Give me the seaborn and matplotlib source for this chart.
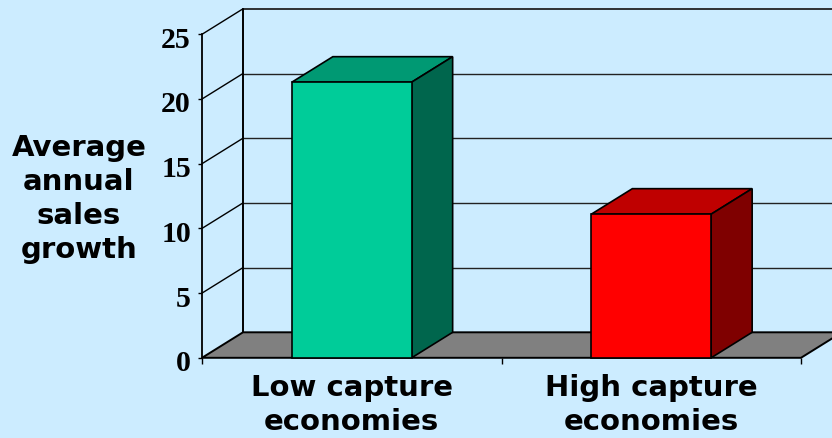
import matplotlib
matplotlib.use('Agg')
import matplotlib.pyplot as plt
import seaborn as sns
import pandas as pd
from matplotlib.patches import Polygon
from matplotlib.transforms import ScaledTranslation

categories = ['Low capture\neconomies', 'High capture\neconomies']
growth = [21.3, 11.1]
bar_colors = ['#00CC99', '#FF0000']
top_colors = ['#009973', '#BF0000']
side_colors = ['#00664D', '#7F0000']
y_ticks = [0, 5, 10, 15, 20, 25]
ylabel_text = 'Average\nannual\nsales\ngrowth'

bg = '#CCECFF'
W, H = 832, 439

sns.set_theme(style='white')
plt.rcParams['font.family'] = ['DejaVu Sans']

fig = plt.figure(figsize=(W / 100, H / 100), dpi=100, facecolor=bg)
ax = fig.add_axes([202 / W, (H - 358.8) / H, 599 / W, 323.5 / H])
ax.set_facecolor('none')

df = pd.DataFrame({'category': categories, 'growth': growth})
sns.barplot(data=df, x='category', y='growth', hue='category', palette=bar_colors,
            saturation=1, width=0.4, edgecolor='black', linewidth=1.2, legend=False,
            zorder=6, ax=ax, clip_on=False)

ax.set_xlim(-0.5, 1.5)
ax.set_ylim(0, 25)

# depth of the fake 3d box, in data units
dx = 41 / (599 / 2)
dy = 25.5 / (323.5 / 25)

# floor
ax.add_patch(Polygon([(-0.5, 0), (1.5, 0), (1.5 + dx, dy), (-0.5 + dx, dy)], closed=True,
                     facecolor='#808080', edgecolor='black', linewidth=1.4,
                     clip_on=False, zorder=1))

# back wall grid and side wall lines
for t in y_ticks[1:]:
    lw = 1.3 if t == 25 else 1.0
    ax.plot([-0.5 + dx, 1.5 + dx], [t + dy, t + dy], color='#222222', lw=lw, clip_on=False, zorder=2)
    ax.plot([-0.5, -0.5 + dx], [t, t + dy], color='black', lw=1.0, clip_on=False, zorder=2)
ax.plot([-0.5 + dx, -0.5 + dx], [dy, 25 + dy], color='black', lw=1.4, clip_on=False, zorder=2)

# top and side of each bar
for bar, top_c, side_c in zip(ax.patches[:2], top_colors, side_colors):
    x0 = bar.get_x()
    x1 = x0 + bar.get_width()
    h = bar.get_height()
    ax.add_patch(Polygon([(x0, h), (x1, h), (x1 + dx, h + dy), (x0 + dx, h + dy)], closed=True,
                         facecolor=top_c, edgecolor='black', linewidth=1.2, clip_on=False, zorder=5))
    ax.add_patch(Polygon([(x1, 0), (x1 + dx, dy), (x1 + dx, h + dy), (x1, h)], closed=True,
                         facecolor=side_c, edgecolor='black', linewidth=1.2, clip_on=False, zorder=5))

sns.despine(ax=ax, top=True, right=True)
ax.spines['left'].set_linewidth(1.3)
ax.spines['left'].set_color('black')
ax.spines['bottom'].set_visible(False)

ax.set_yticks(y_ticks)
ax.set_yticklabels([str(t) for t in y_ticks], family='Liberation Serif', fontweight='bold',
                   fontsize=21.5, color='black', va='center_baseline')
ax.tick_params(axis='y', left=True, length=3, width=1.0, color='black', pad=5)
# labels sit a little under their ticks in the original
shift = ScaledTranslation(0, -2 / 100, fig.dpi_scale_trans)
for lab in ax.get_yticklabels():
    lab.set_transform(lab.get_transform() + shift)

ax.set_xticks([0, 1])
ax.set_xticklabels(categories, fontweight='bold', fontsize=21, color='black', linespacing=1.27)
ax.set_xticks([-0.5, 0.5, 1.5], minor=True)
ax.tick_params(axis='x', which='minor', bottom=True, length=4, width=1.0, color='black')
ax.tick_params(axis='x', which='major', bottom=False, length=0, pad=11)

ax.set_xlabel('')
ax.set_ylabel(ylabel_text, rotation=0, fontweight='bold', fontsize=21, color='black',
              ha='center', va='center', linespacing=1.27)
ax.yaxis.set_label_coords((79 - 202) / 599, (358.5 - 198.5) / 323.5)

fig.savefig('out.png', dpi=100, facecolor=bg)
